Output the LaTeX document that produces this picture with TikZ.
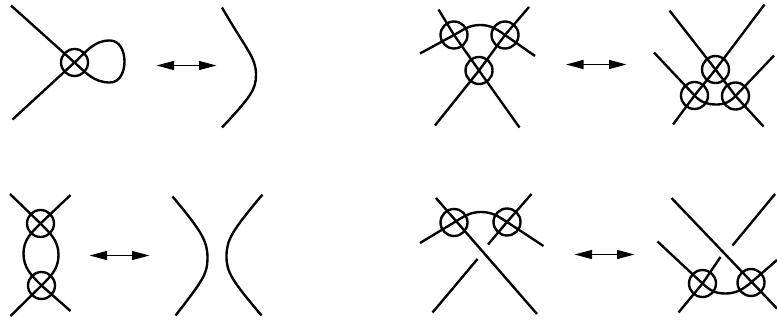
\documentclass[tikz,border=0pt]{standalone}
\usepackage{tikz}
\usetikzlibrary{arrows.meta}

\begin{document}
\begin{tikzpicture}[xing/.style={draw, circle, line width=1.35pt, minimum size=0.54cm, inner sep=0pt},
                    strand/.style={line width=1.35pt},
                    tohump/.style={out looseness=1.7, in looseness=0.6},
                    fromhump/.style={out looseness=0.6, in looseness=1.7},
                    move/.style={{Triangle[length=0.35cm,width=0.18cm]}-{Triangle[length=0.35cm,width=0.18cm]}, line width=0.7pt}]
    \useasboundingbox (0, 0) rectangle (15.54, 6.4);

    % Top left: loop
    \node[xing] (a1) at (1.49, 5.15) {};
    \coordinate (a2) at (0.22, 6.29); \coordinate (a3) at (0.25, 4.01);
    \coordinate (a4) at (2.20, 4.75); \coordinate (a5) at (2.49, 5.17); \coordinate (a6) at (2.20, 5.59);
    \draw[strand] (a2) -- (a1.center) to[out=-42, in=180] (a4) to[out=0, in=-90] (a5)
        to[out=90, in=0] (a6) to[out=180, in=42] (a1.center) -- (a3);

    \coordinate (a7) at (3.13, 5.09); \coordinate (a8) at (4.33, 5.09);
    \draw[move] (a7) -- (a8);

    \coordinate (a9) at (4.44, 6.25); \coordinate (a10) at (5.12, 4.90); \coordinate (a11) at (4.44, 3.85);
    \draw[strand] (a9) to[out=-60, in=90, tohump] (a10) to[out=-90, in=47, fromhump] (a11);

    % Top right: triangle
    \node[xing] (b1) at (9.08, 5.70) {};
    \node[xing] (b2) at (10.10, 5.70) {};
    \node[xing] (b3) at (9.58, 4.99) {};
    \coordinate (b4) at (8.77, 6.21); \coordinate (b5) at (10.39, 3.85);
    \coordinate (b6) at (10.58, 6.26); \coordinate (b7) at (8.70, 3.89);
    \coordinate (b8) at (8.40, 5.33); \coordinate (b9) at (9.60, 5.90); \coordinate (b10) at (10.70, 5.28);
    \draw[strand] (b4) -- (b1.center) -- (b3.center) -- (b5);
    \draw[strand] (b6) -- (b2.center) -- (b3.center) -- (b7);
    \draw[strand] (b8) -- (b1.center) to[out=29, in=180] (b9) to[out=0, in=145] (b2.center) -- (b10);

    \coordinate (b11) at (11.32, 5.11); \coordinate (b12) at (12.53, 5.11);
    \draw[move] (b11) -- (b12);

    \node[xing] (d1) at (14.31, 5.01) {};
    \node[xing] (d2) at (13.89, 4.49) {};
    \node[xing] (d3) at (14.71, 4.48) {};
    \coordinate (d4) at (13.39, 6.19); \coordinate (d5) at (15.27, 3.87);
    \coordinate (d6) at (15.29, 6.31); \coordinate (d7) at (13.46, 3.91);
    \coordinate (d8) at (13.08, 5.35); \coordinate (d9) at (14.33, 4.31); \coordinate (d10) at (15.48, 5.29);
    \draw[strand] (d4) -- (d1.center) -- (d3.center) -- (d5);
    \draw[strand] (d6) -- (d1.center) -- (d2.center) -- (d7);
    \draw[strand] (d8) -- (d2.center) to[out=-47, in=180] (d9) to[out=0, in=-134] (d3.center) -- (d10);

    % Bottom left: two crossings
    \node[xing] (c1) at (0.81, 1.93) {};
    \node[xing] (c2) at (0.83, 0.69) {};
    \coordinate (c3) at (0.20, 2.52); \coordinate (c4) at (1.17, 1.30); \coordinate (c5) at (0.21, 0.08);
    \coordinate (c6) at (1.41, 2.50); \coordinate (c7) at (0.47, 1.33); \coordinate (c8) at (1.41, 0.18);
    \draw[strand] (c3) -- (c1.center) to[out=-45, in=90] (c4) to[out=-90, in=45] (c2.center) -- (c5);
    \draw[strand] (c6) -- (c1.center) to[out=-135, in=90] (c7) to[out=-90, in=135] (c2.center) -- (c8);

    \coordinate (c9) at (1.79, 1.29); \coordinate (c10) at (2.99, 1.29);
    \draw[move] (c9) -- (c10);

    \coordinate (c11) at (3.45, 2.47); \coordinate (c12) at (4.15, 1.23); \coordinate (c13) at (3.51, 0.09);
    \coordinate (c14) at (5.25, 2.51); \coordinate (c15) at (4.53, 1.27); \coordinate (c16) at (5.23, 0.09);
    \draw[strand] (c11) to[out=-50, in=90, tohump] (c12) to[out=-90, in=52, fromhump] (c13);
    \draw[strand] (c14) to[out=-130, in=90, tohump] (c15) to[out=-90, in=130, fromhump] (c16);

    % Bottom right: mixed move
    \node[xing] (e1) at (9.08, 1.95) {};
    \node[xing] (e2) at (10.14, 1.96) {};
    \coordinate (e3) at (8.72, 2.44); \coordinate (e4) at (10.74, 0.12);
    \coordinate (e5) at (10.63, 2.52); \coordinate (e6) at (9.76, 1.51);
    \coordinate (e7) at (9.55, 1.22); \coordinate (e8) at (8.65, 0.15);
    \coordinate (e9) at (8.40, 1.54); \coordinate (e10) at (9.62, 2.16); \coordinate (e11) at (10.87, 1.48);
    \draw[strand] (e3) -- (e4);
    \draw[strand] (e5) -- (e2.center) -- (e6);
    \draw[strand] (e7) -- (e8);
    \draw[strand] (e9) -- (e1.center) to[out=31, in=180] (e10) to[out=0, in=147] (e2.center) -- (e11);

    \coordinate (e12) at (11.49, 1.31); \coordinate (e13) at (12.69, 1.31);
    \draw[move] (e12) -- (e13);

    \node[xing] (f1) at (14.05, 0.73) {};
    \node[xing] (f2) at (15.02, 0.75) {};
    \coordinate (f3) at (13.43, 2.44); \coordinate (f4) at (15.54, 0.23);
    \coordinate (f5) at (15.50, 2.52); \coordinate (f6) at (14.65, 1.49);
    \coordinate (f7) at (14.41, 1.26); \coordinate (f8) at (13.57, 0.15);
    \coordinate (f9) at (13.15, 1.57); \coordinate (f10) at (14.50, 0.53); \coordinate (f11) at (15.54, 1.20);
    \draw[strand] (f3) -- (f4);
    \draw[strand] (f5) -- (f6);
    \draw[strand] (f7) -- (f1.center) -- (f8);
    \draw[strand] (f9) -- (f1.center) to[out=-43, in=180] (f10) to[out=0, in=-140] (f2.center) -- (f11);

\end{tikzpicture}
\end{document}
